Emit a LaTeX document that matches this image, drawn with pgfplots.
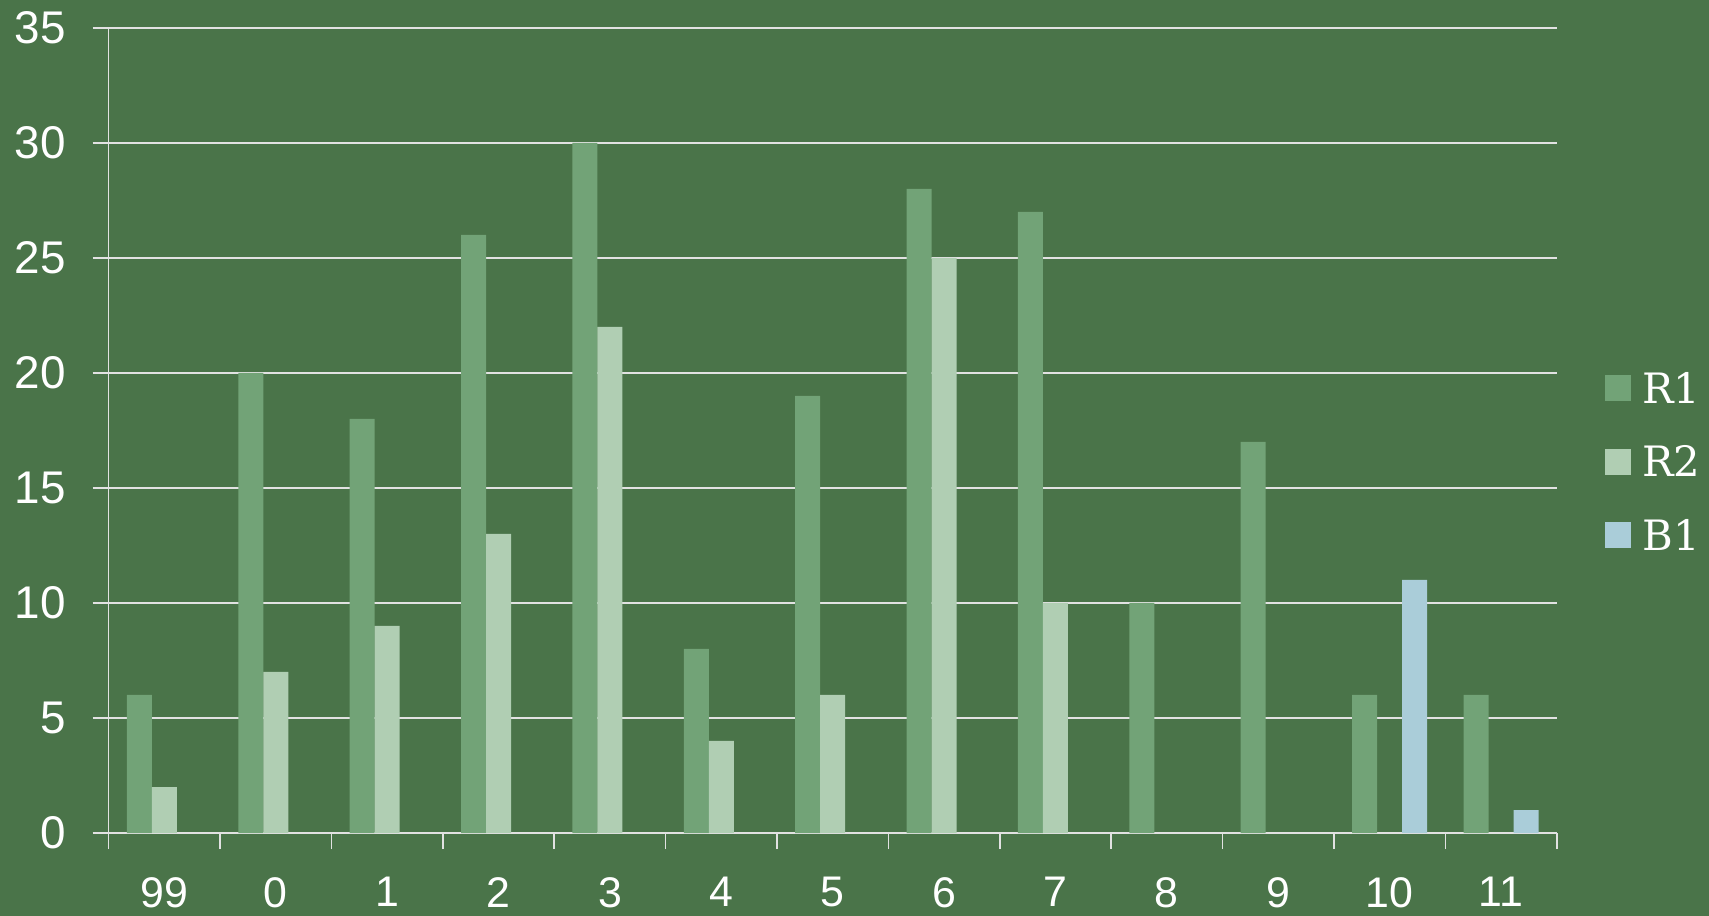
\documentclass[border=0pt]{standalone}
\usepackage{fontspec}
\setmainfont{Liberation Sans}
\newfontfamily\legfont{DejaVu Serif}
\usepackage{pgfplots}
\pgfplotsset{compat=1.18}
\definecolor{bg}{HTML}{4A7449}
\definecolor{rone}{HTML}{72A377}
\definecolor{rtwo}{HTML}{B0CEB3}
\definecolor{bone}{HTML}{AACDD9}
\definecolor{gridc}{HTML}{E2E2E2}
\pgfplotsset{sqleg/.style={legend image code/.code={\fill[##1] (0bp,-13bp) rectangle (26bp,13bp);}}}
\begin{document}
\begin{tikzpicture}
\fill[bg] (-108.7bp,-83bp) rectangle (1600.3bp,833bp);
\begin{axis}[
 scale only axis, width=1448bp, height=805bp,
 at={(0,0)}, anchor=south west,
 xmin=-0.5, xmax=12.5, ymin=0, ymax=35,
 ybar=0pt, bar width=25bp,
 axis x line=bottom, axis y line=left,
 axis line style={gridc, line width=1.6bp, -},
 xtick={-0.5,0.5,...,12.5}, xticklabels={},
 extra x ticks={0,1,2,3,4,5,6,7,8,9,10,11,12},
 extra x tick labels={99,0,1,2,3,4,5,6,7,8,9,10,11},
 extra x tick style={major tick length=0pt, xticklabel style={anchor=north, inner sep=0pt, yshift=-44bp, font=\fontsize{43}{43}\selectfont, text=white}},
 ytick={0,5,...,35},
 ymajorgrids, major grid style={gridc, line width=1.6bp},
 tick align=outside, major tick length=16bp, tick style={gridc, line width=1.6bp},
 /pgf/number format/assume math mode=true,
 yticklabel style={anchor=east, inner sep=0pt, xshift=-27bp, font=\fontsize{46}{46}\selectfont, text=white},
 legend style={at={(1.0334,0.461)}, anchor=west, draw=none, fill=none, inner sep=0pt,
   font=\legfont\fontsize{42}{42}\selectfont, text=white, row sep=41bp, column sep=11bp,
   nodes={inner sep=0pt}},
 legend cell align=left,
]
\addplot[fill=rone, draw=none, sqleg] coordinates {(0,6)(1,20)(2,18)(3,26)(4,30)(5,8)(6,19)(7,28)(8,27)(9,10)(10,17)(11,6)(12,6)};
\addplot[fill=rtwo, draw=none, sqleg] coordinates {(0,2)(1,7)(2,9)(3,13)(4,22)(5,4)(6,6)(7,25)(8,10)};
\addplot[fill=bone, draw=none, sqleg] coordinates {(11,11)(12,1)};
\legend{R1,R2,B1}
\end{axis}
\pgfresetboundingbox
\useasboundingbox (-108.7bp,-83bp) rectangle (1600.3bp,833bp);
\end{tikzpicture}
\end{document}
